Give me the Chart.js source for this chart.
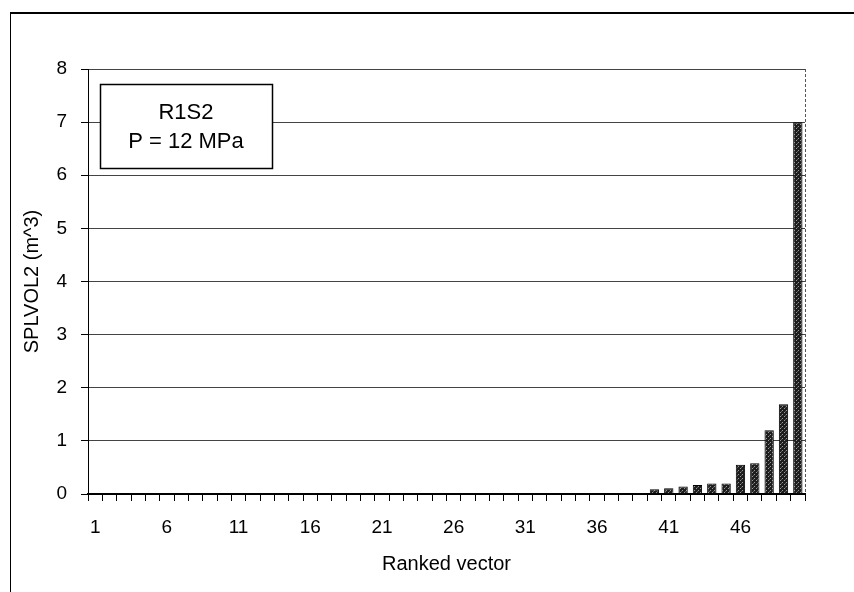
<!DOCTYPE html>
<html>
<head>
<meta charset="utf-8">
<script src="https://cdn.jsdelivr.net/npm/chart.js@4"></script>
<style>
  body { margin: 0; background: #fff; }
  #wrap { position: relative; width: 854px; height: 592px; }
  #frame { position: absolute; left: 10px; top: 12px; right: 0; bottom: 0;
           border-top: 2px solid #000; border-left: 1px solid #000; }
</style>
</head>
<body>
<div id="wrap">
  <div id="frame"></div>
  <canvas id="chart" width="854" height="592"></canvas>
</div>
<script>
// ranked vector index 1..50
const ranks = Array.from({ length: 50 }, (_, i) => String(i + 1));

// SPLVOL2 values (m^3)
const splvol = [
  0, 0, 0, 0, 0, 0, 0, 0, 0, 0,
  0, 0, 0, 0, 0, 0, 0, 0, 0, 0,
  0, 0, 0, 0, 0, 0, 0, 0, 0, 0,
  0, 0, 0, 0, 0, 0.01, 0.01, 0.01, 0.02, 0.09,
  0.11, 0.14, 0.17, 0.2, 0.2, 0.55, 0.58, 1.2, 1.69, 7.0
];

const yTicks = [0, 1, 2, 3, 4, 5, 6, 7, 8];
const boxLines = ['R1S2', 'P = 12 MPa'];

// speckled dark fill, like the printed bars
function makePattern() {
  const c = document.createElement('canvas');
  c.width = 4; c.height = 4;
  const g = c.getContext('2d');
  g.fillStyle = '#1e1e1e';
  g.fillRect(0, 0, 4, 4);
  g.fillStyle = '#9a9a9a';
  g.fillRect(0, 0, 1, 1);
  g.fillRect(2, 2, 1, 1);
  g.fillStyle = '#5a5a5a';
  g.fillRect(1, 3, 1, 1);
  return g.createPattern(c, 'repeat');
}

// text box in the upper left of the plot, plus the dotted right edge
const labelBox = {
  id: 'labelBox',
  afterDraw(chart) {
    const ctx = chart.ctx;
    const a = chart.chartArea;
    ctx.save();
    ctx.strokeStyle = '#555';
    ctx.setLineDash([3, 2]);
    ctx.beginPath();
    ctx.moveTo(a.right + 0.5, a.top);
    ctx.lineTo(a.right + 0.5, a.bottom);
    ctx.stroke();
    ctx.setLineDash([]);

    const x = a.left + 12, y = a.top + 15;
    const w = 172, h = 84;
    ctx.fillStyle = '#fff';
    ctx.fillRect(x, y, w, h);
    ctx.strokeStyle = '#000';
    ctx.lineWidth = 1.5;
    ctx.strokeRect(x + 0.5, y + 0.5, w, h);
    ctx.fillStyle = '#000';
    ctx.font = '22px "Liberation Sans", Arial, sans-serif';
    ctx.textAlign = 'center';
    ctx.textBaseline = 'middle';
    ctx.fillText(boxLines[0], x + w / 2, y + 29);
    ctx.fillText(boxLines[1], x + w / 2, y + 58);
    ctx.restore();
  }
};

const fontSpec = { family: '"Liberation Sans", Arial, sans-serif', size: 19 };
const titleFont = { family: '"Liberation Sans", Arial, sans-serif', size: 20 };

new Chart(document.getElementById('chart'), {
  type: 'bar',
  data: {
    labels: ranks,
    datasets: [{
      data: splvol,
      backgroundColor: makePattern(),
      borderColor: '#000',
      borderWidth: 1,
      categoryPercentage: 1,
      barPercentage: 0.65
    }]
  },
  options: {
    responsive: false,
    animation: false,
    layout: { padding: { left: 0, top: 69, right: 49, bottom: 0 } },
    plugins: { legend: { display: false }, tooltip: { enabled: false } },
    scales: {
      x: {
        afterFit: axis => { axis.height = 98; },
        grid: { display: true, drawOnChartArea: false, drawTicks: true, tickLength: 7, color: '#000', offset: true },
        border: { color: '#000', width: 2 },
        ticks: {
          autoSkip: false, maxRotation: 0, color: '#000', font: fontSpec, padding: 15,
          callback: (v, i) => (i % 5 === 0 ? ranks[i] : '')
        },
        title: { display: true, text: 'Ranked vector', color: '#000', font: titleFont, padding: { top: 0, bottom: 16 } }
      },
      y: {
        min: 0, max: 8,
        afterFit: axis => { axis.width = 88; },
        afterBuildTicks: axis => { axis.ticks = yTicks.map(v => ({ value: v })); },
        grid: { color: '#444', lineWidth: 1, tickLength: 7, tickColor: '#000' },
        border: { color: '#000', width: 1 },
        ticks: { color: '#000', font: fontSpec, padding: 14 },
        title: { display: true, text: 'SPLVOL2 (m^3)', color: '#000', font: titleFont, padding: { top: 20, bottom: 0 } }
      }
    }
  },
  plugins: [labelBox]
});
</script>
</body>
</html>
